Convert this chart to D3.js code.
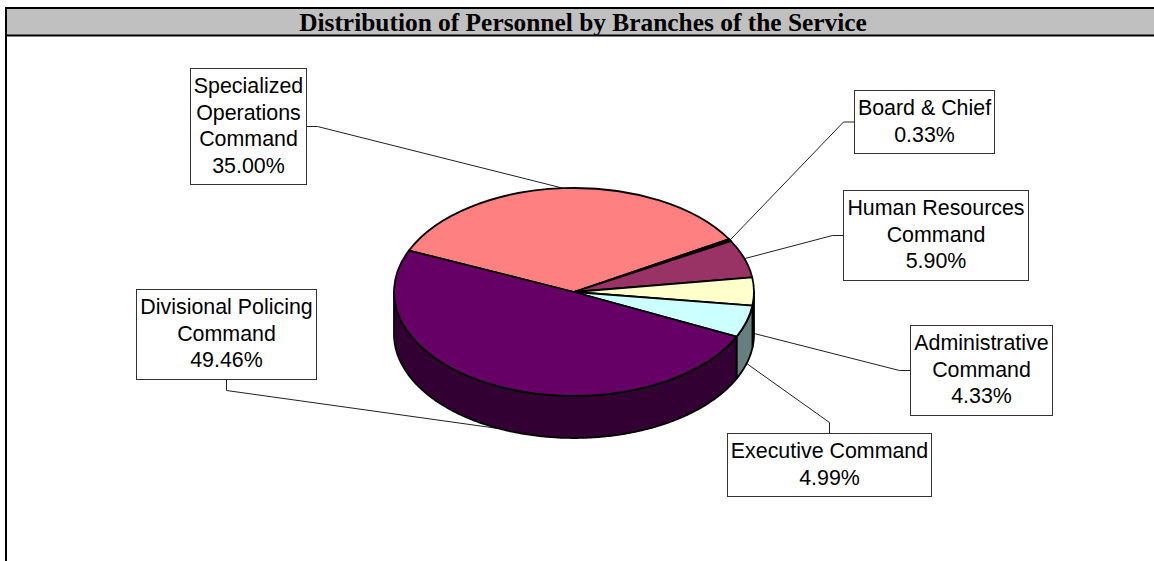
<!DOCTYPE html>
<meta charset="utf-8">
<style>
html, body { margin: 0; background: #fff; }
svg { display: block; }
.slice { stroke: #000; stroke-width: 1.8px; vector-effect: non-scaling-stroke; stroke-linejoin: round; }
.side { stroke: #000; stroke-width: 1.8px; stroke-linejoin: round; }
.leader { fill: none; stroke: #222; stroke-width: 1px; }
.box { fill: #fff; stroke: #333; stroke-width: 1px; }
.callout text { font: 21.4px "Liberation Sans", Arial, sans-serif; fill: #000; text-anchor: middle; }
.title { font: bold 25.4px "Liberation Serif", "Times New Roman", serif; fill: #000; text-anchor: middle; }
</style>
<body>
<script src="https://cdn.jsdelivr.net/npm/d3@7"></script>
<script>

var categories = [
  ["Specialized", "Operations", "Command"],
  ["Board & Chief"],
  ["Human Resources", "Command"],
  ["Administrative", "Command"],
  ["Executive Command"],
  ["Divisional Policing", "Command"]
];
var values = [35.00, 0.33, 5.90, 4.33, 4.99, 49.46];
var topColors = ["#ff8080", "#000000", "#993366", "#ffffcc", "#ccffff", "#660066"];
var sideColors = ["#7f4040", "#000000", "#4c1933", "#7f7f66", "#667f7f", "#330033"];

// callout boxes: x, y, w, h, then which edge the leader leaves from
var boxes = [
  {x: 190.5, y: 68.5, w: 116, h: 116, side: "right"},
  {x: 854.5, y: 90.5, w: 140, h: 63, side: "left"},
  {x: 843.5, y: 190.5, w: 185, h: 90, side: "left"},
  {x: 910.5, y: 325.5, w: 142, h: 90, side: "left"},
  {x: 727.5, y: 433.5, w: 204, h: 63, side: "top"},
  {x: 136.5, y: 289.5, w: 180, h: 90, side: "bottom"}
];

var width = 1154, height = 561;
var cx = 574, cy = 292, rx = 180, ry = 104, depth = 42;
var k = ry / rx, elbow = 11, lineH = 26.5;

var svg = d3.select("body").append("svg")
    .attr("width", width)
    .attr("height", height);

// frame and title band
svg.append("rect")
    .attr("x", 6).attr("y", 8)
    .attr("width", width).attr("height", 27.5)
    .attr("fill", "#c0c0c0");
svg.append("path")
    .attr("d", "M" + width + ",8H6V" + height + "M6,35.5H" + width)
    .attr("fill", "none")
    .attr("stroke", "#000")
    .attr("stroke-width", 2);
svg.append("text")
    .attr("class", "title")
    .attr("x", 583)
    .attr("y", 30.5)
    .text("Distribution of Personnel by Branches of the Service");

var first = (-66.5 / 180) * Math.PI;
var pie = d3.pie().sort(null).startAngle(first).endAngle(first + 2 * Math.PI);
var arcs = pie(values);

function rimX(a) { return cx + rx * Math.sin(a); }
function rimY(a) { return cy - ry * Math.cos(a); }

// side wall, only the part of each slice facing the viewer (90deg to 270deg)
var wall = d3.line();
var g = svg.append("g");

arcs.forEach(function(d, i) {
  var a0 = Math.max(d.startAngle, Math.PI / 2),
      a1 = Math.min(d.endAngle, 3 * Math.PI / 2);
  if (a1 <= a0) return;
  var n = Math.ceil((a1 - a0) / 0.01);
  var upper = d3.range(n + 1).map(function(j) {
    var a = a0 + (a1 - a0) * j / n;
    return [rimX(a), rimY(a)];
  });
  var lower = upper.slice().reverse().map(function(p) { return [p[0], p[1] + depth]; });
  g.append("path")
      .attr("class", "side")
      .attr("fill", sideColors[i])
      .attr("d", wall(upper.concat(lower)) + "Z");
});

var arc = d3.arc().innerRadius(0).outerRadius(rx);

g.append("g")
    .attr("transform", "translate(" + cx + "," + cy + ") scale(1," + k + ")")
  .selectAll("path")
    .data(arcs)
  .enter().append("path")
    .attr("class", "slice")
    .attr("fill", function(d, i) { return topColors[i]; })
    .attr("d", arc);

// callouts
arcs.forEach(function(d, i) {
  var b = boxes[i];
  var mid = (d.startAngle + d.endAngle) / 2;
  var front = Math.cos(mid) < 0.01;
  var end = [rimX(mid), rimY(mid) + (front ? depth : 0)];
  var start, knee;
  if (b.side == "right") { start = [b.x + b.w, b.y + b.h / 2]; knee = [start[0] + elbow, start[1]]; }
  if (b.side == "left") { start = [b.x, b.y + b.h / 2]; knee = [start[0] - elbow, start[1]]; }
  if (b.side == "top") { start = [b.x + b.w / 2, b.y]; knee = [start[0], start[1] - elbow]; }
  if (b.side == "bottom") { start = [b.x + b.w / 2, b.y + b.h]; knee = [start[0], start[1] + elbow]; }

  svg.insert("path", "g")
      .attr("class", "leader")
      .attr("d", d3.line()([start, knee, end]));

  var c = svg.append("g").attr("class", "callout");
  c.append("rect")
      .attr("class", "box")
      .attr("x", b.x).attr("y", b.y)
      .attr("width", b.w).attr("height", b.h);

  var lines = categories[i].concat([d3.format(".2f")(values[i]) + "%"]);
  var top = b.y + b.h / 2 - lineH * lines.length / 2;
  c.selectAll("text")
      .data(lines)
    .enter().append("text")
      .attr("x", b.x + b.w / 2)
      .attr("y", function(t, j) { return top + lineH * j + 19.5; })
      .text(function(t) { return t; });
});

</script>
